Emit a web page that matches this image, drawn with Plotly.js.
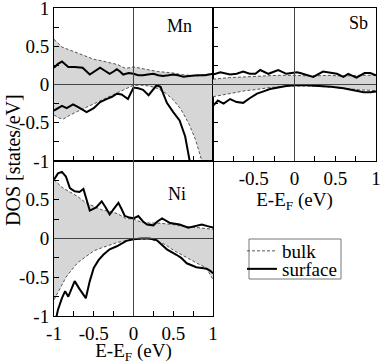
<!DOCTYPE html>
<html>
<head>
<meta charset="utf-8">
<script src="https://cdn.plot.ly/plotly-3.0.1.min.js"></script>
<style>
  html, body { margin: 0; padding: 0; background: #fff; }
  #plot { width: 382px; height: 364px; }
</style>
</head>
<body>
<div id="plot"></div>
<script>
// Mn
var mnBulkUpX = [-1, -0.9, -0.8, -0.7, -0.6, -0.5, -0.4, -0.3, -0.2, -0.1, 0, 0.1, 0.2, 0.3, 0.4, 0.5, 0.6, 0.7, 0.8, 0.9, 1];
var mnBulkUpY = [0.59, 0.49, 0.45, 0.41, 0.37, 0.33, 0.31, 0.29, 0.26, 0.21, 0.23, 0.21, 0.19, 0.17, 0.16, 0.15, 0.13, 0.12, 0.11, 0.13, 0.14];
var mnSurfUpX = [-1, -0.95, -0.9, -0.82, -0.74, -0.64, -0.55, -0.48, -0.42, -0.36, -0.3, -0.25, -0.21, -0.17, -0.13, -0.06, 0, 0.06, 0.12, 0.18, 0.25, 0.31, 0.37, 0.44, 0.5, 0.56, 0.63, 0.7, 0.8, 0.9, 1];
var mnSurfUpY = [0.22, 0.27, 0.30, 0.23, 0.23, 0.22, 0.13, 0.18, 0.22, 0.18, 0.14, 0.17, 0.2, 0.17, 0.13, 0.15, 0.14, 0.12, 0.12, 0.13, 0.14, 0.12, 0.11, 0.12, 0.13, 0.12, 0.1, 0.11, 0.12, 0.12, 0.14];
var mnBulkDnX = [-1, -0.93, -0.88, -0.8, -0.7, -0.6, -0.5, -0.4, -0.3, -0.2, -0.1, 0, 0.1, 0.2, 0.3, 0.4, 0.5, 0.6, 0.7, 0.78, 0.86, 0.92, 1];
var mnBulkDnY = [-0.40, -0.44, -0.45, -0.40, -0.35, -0.30, -0.26, -0.21, -0.16, -0.11, -0.05, -0.01, -0.01, -0.02, -0.05, -0.11, -0.2, -0.33, -0.52, -0.72, -1.0, -1.35, -1.8];
var mnSurfDnX = [-1, -0.9, -0.84, -0.76, -0.69, -0.59, -0.5, -0.42, -0.34, -0.27, -0.21, -0.15, -0.07, 0, 0.06, 0.12, 0.19, 0.24, 0.29, 0.34, 0.42, 0.5, 0.58, 0.65, 0.71, 0.76];
var mnSurfDnY = [-0.34, -0.28, -0.31, -0.26, -0.30, -0.36, -0.31, -0.23, -0.19, -0.16, -0.12, -0.13, -0.19, -0.04, -0.05, -0.07, -0.14, -0.07, -0.01, -0.03, -0.24, -0.36, -0.47, -0.68, -0.99, -1.3];

// Sb
var sbBulkUpX = [-1, -0.8, -0.6, -0.4, -0.2, 0, 0.2, 0.4, 0.6, 0.8, 1];
var sbBulkUpY = [0.07, 0.09, 0.1, 0.11, 0.12, 0.12, 0.11, 0.12, 0.11, 0.12, 0.12];
var sbSurfUpX = [-1, -0.91, -0.79, -0.71, -0.63, -0.55, -0.48, -0.42, -0.32, -0.26, -0.2, -0.1, 0.03, 0.07, 0.15, 0.23, 0.35, 0.45, 0.52, 0.6, 0.66, 0.76, 0.86, 0.93, 1];
var sbSurfUpY = [0.13, 0.16, 0.13, 0.14, 0.17, 0.14, 0.14, 0.19, 0.14, 0.17, 0.19, 0.14, 0.16, 0.15, 0.12, 0.1, 0.17, 0.15, 0.14, 0.1, 0.14, 0.09, 0.15, 0.15, 0.12];
var sbBulkDnX = [-1, -0.9, -0.8, -0.7, -0.6, -0.5, -0.4, -0.3, -0.2, -0.1, 0, 0.2, 0.4, 0.6, 0.8, 1];
var sbBulkDnY = [-0.16, -0.14, -0.12, -0.1, -0.08, -0.07, -0.05, -0.04, -0.03, -0.02, -0.02, -0.02, -0.03, -0.05, -0.07, -0.08];
var sbSurfDnX = [-1, -0.94, -0.87, -0.79, -0.71, -0.63, -0.55, -0.46, -0.38, -0.3, -0.2, -0.1, 0, 0.15, 0.3, 0.45, 0.6, 0.72, 0.85, 0.93, 1];
var sbSurfDnY = [-0.28, -0.21, -0.25, -0.19, -0.23, -0.24, -0.18, -0.12, -0.09, -0.06, -0.04, -0.02, -0.01, -0.01, -0.02, -0.03, -0.05, -0.07, -0.1, -0.1, -0.09];

// Ni
var niBulkUpX = [-1, -0.9, -0.8, -0.7, -0.6, -0.5, -0.4, -0.3, -0.2, -0.1, 0, 0.1, 0.2, 0.3, 0.4, 0.5, 0.6, 0.7, 0.8, 0.9, 1];
var niBulkUpY = [0.76, 0.66, 0.6, 0.54, 0.46, 0.42, 0.37, 0.35, 0.32, 0.26, 0.25, 0.21, 0.2, 0.2, 0.19, 0.18, 0.16, 0.15, 0.14, 0.13, 0.12];
var niSurfUpX = [-1, -0.95, -0.9, -0.85, -0.8, -0.74, -0.68, -0.63, -0.59, -0.55, -0.47, -0.4, -0.35, -0.3, -0.25, -0.19, -0.15, -0.11, -0.05, 0, 0.06, 0.12, 0.17, 0.25, 0.3, 0.36, 0.46, 0.58, 0.69, 0.79, 0.86, 0.93, 1];
var niSurfUpY = [0.76, 0.84, 0.86, 0.8, 0.65, 0.61, 0.6, 0.64, 0.5, 0.36, 0.4, 0.48, 0.4, 0.31, 0.38, 0.46, 0.38, 0.29, 0.27, 0.26, 0.29, 0.22, 0.18, 0.17, 0.22, 0.26, 0.2, 0.18, 0.14, 0.16, 0.18, 0.16, 0.14];
var niBulkDnX = [-1, -0.95, -0.9, -0.85, -0.8, -0.75, -0.7, -0.6, -0.5, -0.4, -0.3, -0.2, -0.1, 0, 0.1, 0.2, 0.3, 0.4, 0.5, 0.6, 0.7, 0.8, 0.9, 0.95, 1];
var niBulkDnY = [-0.79, -0.7, -0.6, -0.5, -0.43, -0.37, -0.31, -0.24, -0.16, -0.12, -0.08, -0.05, -0.03, -0.01, -0.01, -0.01, -0.03, -0.08, -0.15, -0.21, -0.27, -0.32, -0.37, -0.44, -0.53];
var niSurfDnX = [-1, -0.97, -0.95, -0.9, -0.86, -0.82, -0.74, -0.68, -0.63, -0.6, -0.55, -0.5, -0.44, -0.38, -0.3, -0.21, -0.09, 0, 0.1, 0.2, 0.29, 0.35, 0.42, 0.54, 0.6, 0.67, 0.79, 0.86, 0.92, 0.97, 1];
var niSurfDnY = [-1.15, -1.0, -0.92, -0.77, -0.68, -0.75, -0.55, -0.65, -0.73, -0.77, -0.55, -0.38, -0.28, -0.21, -0.14, -0.1, -0.03, -0.01, 0, 0, -0.02, -0.08, -0.14, -0.21, -0.25, -0.32, -0.37, -0.38, -0.39, -0.42, -0.45];

// ticks every 0.25, labels every 0.5
var tickVals = [-1, -0.75, -0.5, -0.25, 0, 0.25, 0.5, 0.75, 1];
var mnYText = ['-1', '', '-0.5', '', '0', '', '0.5', '', '1'];
var niYText = ['-1', '', '-0.5', '', '0', '', '0.5', '', ''];
var niXText = ['-1', '', '-0.5', '', '0', '', '0.5', '', '1'];
var sbXText = ['', '', '-0.5', '', '0', '', '0.5', '', '1'];

var FILL = '#d6d6d6';
var DASH = '#555';

function fillTrace(x, y, xa, ya) {
  return {x: x, y: y, xaxis: xa, yaxis: ya, type: 'scatter', mode: 'lines',
    line: {width: 0}, fill: 'tozeroy', fillcolor: FILL, showlegend: false, hoverinfo: 'skip'};
}
function bulkTrace(x, y, xa, ya, leg) {
  return {x: x, y: y, xaxis: xa, yaxis: ya, type: 'scatter', mode: 'lines',
    line: {color: DASH, width: 1, dash: '3px,2px'}, name: 'bulk', showlegend: !!leg, legend: 'legend'};
}
function surfTrace(x, y, xa, ya, leg) {
  return {x: x, y: y, xaxis: xa, yaxis: ya, type: 'scatter', mode: 'lines',
    line: {color: 'black', width: 2}, name: 'surface', showlegend: !!leg, legend: 'legend2'};
}

var data = [
  fillTrace(mnBulkUpX, mnBulkUpY, 'x', 'y'),
  fillTrace(mnBulkDnX, mnBulkDnY, 'x', 'y'),
  fillTrace(sbBulkUpX, sbBulkUpY, 'x2', 'y2'),
  fillTrace(sbBulkDnX, sbBulkDnY, 'x2', 'y2'),
  fillTrace(niBulkUpX, niBulkUpY, 'x3', 'y3'),
  fillTrace(niBulkDnX, niBulkDnY, 'x3', 'y3'),
  bulkTrace(mnBulkUpX, mnBulkUpY, 'x', 'y'),
  bulkTrace(mnBulkDnX, mnBulkDnY, 'x', 'y'),
  bulkTrace(sbBulkUpX, sbBulkUpY, 'x2', 'y2'),
  bulkTrace(sbBulkDnX, sbBulkDnY, 'x2', 'y2'),
  bulkTrace(niBulkUpX, niBulkUpY, 'x3', 'y3', true),
  bulkTrace(niBulkDnX, niBulkDnY, 'x3', 'y3'),
  surfTrace(mnSurfUpX, mnSurfUpY, 'x', 'y'),
  surfTrace(mnSurfDnX, mnSurfDnY, 'x', 'y'),
  surfTrace(sbSurfUpX, sbSurfUpY, 'x2', 'y2'),
  surfTrace(sbSurfDnX, sbSurfDnY, 'x2', 'y2'),
  surfTrace(niSurfUpX, niSurfUpY, 'x3', 'y3', true),
  surfTrace(niSurfDnX, niSurfDnY, 'x3', 'y3')
];

var FONT = '"Liberation Serif", "Times New Roman", serif';

function ax(domain, anchor, text, title) {
  var a = {
    domain: domain, anchor: anchor, range: [-1, 1],
    showline: true, mirror: true, linecolor: 'black', linewidth: 1,
    ticks: 'inside', ticklen: 5, tickwidth: 1, tickcolor: 'black',
    tickmode: 'array', tickvals: tickVals, ticktext: text || [],
    showticklabels: !!text, ticklabeloverflow: 'allow',
    showgrid: false, zeroline: false, fixedrange: true,
    tickfont: {family: FONT, size: 19, color: 'black'}
  };
  if (title) a.title = {text: title, font: {family: FONT, size: 19, color: 'black'}, standoff: 1};
  return a;
}

var T = 8, B = 48, H = 364 - T - B;
var xSplit = (213 - 54) / 322, ySplit = (316 - 161) / H;
var xTitle = 'E-E<sub>F</sub> (eV)';
function px(v) { return (v - 54) / 322; }
function py(v) { return (364 - B - v) / H; }

var shapes = [];
[['x', 'y'], ['x2', 'y2'], ['x3', 'y3']].forEach(function (p) {
  shapes.push({type: 'line', xref: p[0], yref: p[1], x0: -1, x1: 1, y0: 0, y1: 0,
    line: {color: '#444', width: 1}, layer: 'above'});
  shapes.push({type: 'line', xref: p[0], yref: p[1], x0: 0, x1: 0, y0: -1, y1: 1,
    line: {color: '#444', width: 1}, layer: 'above'});
});
// legend frame
shapes.push({type: 'rect', xref: 'paper', yref: 'paper',
  x0: px(249), x1: px(341), y0: py(279), y1: py(239),
  line: {color: '#777', width: 1}, fillcolor: 'rgba(0,0,0,0)', layer: 'above'});

var legBase = {xanchor: 'left', yanchor: 'middle', borderwidth: 0, bgcolor: 'rgba(0,0,0,0)',
  font: {family: FONT, size: 19, color: 'black'}, itemwidth: 30};

var layout = {
  width: 382, height: 364,
  margin: {l: 54, r: 6, t: T, b: B},
  paper_bgcolor: 'white', plot_bgcolor: 'white',
  font: {family: FONT, size: 18, color: 'black'},
  xaxis: ax([0, xSplit], 'y'),
  yaxis: ax([ySplit, 1], 'x', mnYText),
  xaxis2: ax([xSplit, 1], 'y2', sbXText, xTitle),
  yaxis2: ax([ySplit, 1], 'x2'),
  xaxis3: ax([0, xSplit], 'y3', niXText, xTitle),
  yaxis3: ax([0, ySplit], 'x3', niYText),
  shapes: shapes,
  showlegend: true,
  legend: Object.assign({x: px(242), y: py(251)}, legBase),
  legend2: Object.assign({x: px(242), y: py(269)}, legBase),
  annotations: [
    {xref: 'x', yref: 'y', x: 0.58, y: 0.76, text: 'Mn', showarrow: false, font: {family: FONT, size: 18}},
    {xref: 'x2', yref: 'y2', x: 0.79, y: 0.8, text: 'Sb', showarrow: false, font: {family: FONT, size: 18}},
    {xref: 'x3', yref: 'y3', x: 0.55, y: 0.57, text: 'Ni', showarrow: false, font: {family: FONT, size: 18}},
    {xref: 'paper', yref: 'paper', x: px(13), y: py(160), xanchor: 'center', yanchor: 'middle',
      text: 'DOS [states/eV]', textangle: -90, showarrow: false, font: {family: FONT, size: 20}}
  ]
};

Plotly.newPlot('plot', data, layout, {staticPlot: true, displayModeBar: false});
</script>
</body>
</html>
